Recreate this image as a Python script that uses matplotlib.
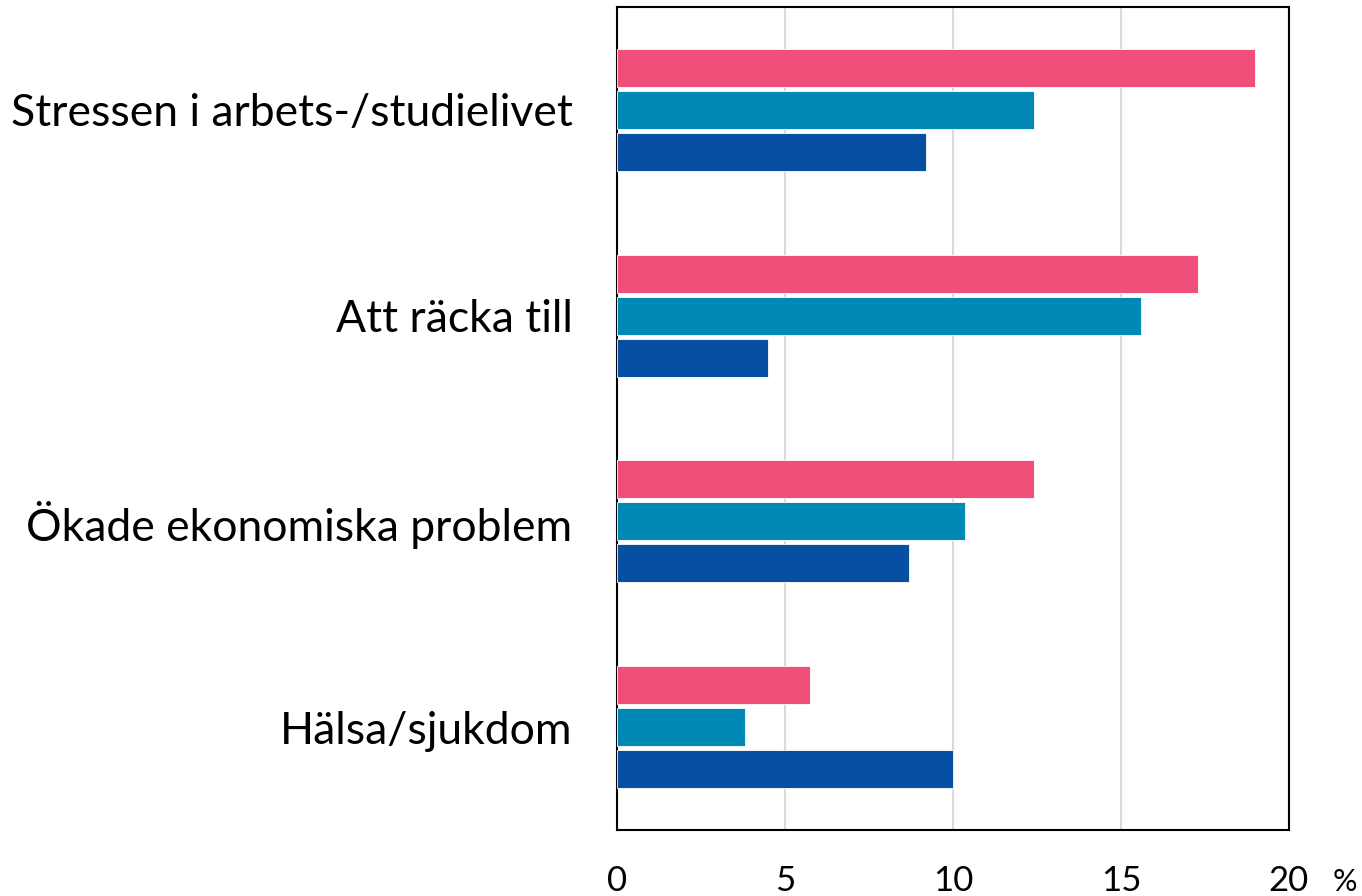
import matplotlib.pyplot as plt
import numpy as np

plt.rcParams["font.family"] = ["Lato", "DejaVu Sans"]

categories = ["Stressen i arbets-/studielivet", "Att räcka till",
              "Ökade ekonomiska problem", "Hälsa/sjukdom"]
pink_vals = [19.0, 17.3, 12.4, 5.75]
teal_vals = [12.4, 15.6, 10.35, 3.8]
blue_vals = [9.2, 4.5, 8.7, 10.0]
xticks = [0, 5, 10, 15, 20]

colors = ["#EF4F78", "#0089B5", "#064FA2"]

fig = plt.figure(figsize=(13.62, 8.96), dpi=100)
ax = fig.add_axes([617 / 1362, 1 - 830 / 896, (1289 - 617) / 1362, (830 - 7) / 896])

y = np.arange(len(categories))
step = 0.204
h = 0.185
for i, (vals, c) in enumerate(zip([pink_vals, teal_vals, blue_vals], colors)):
    ax.barh(y + (i - 1) * step, vals, height=h, color=c,
            edgecolor="white", linewidth=0.6, zorder=3)

ax.set_ylim(len(categories) - 0.5, -0.5)
ax.set_xlim(0, 20)
ax.set_xticks(xticks)
ax.set_yticks(y)
ax.set_yticklabels(categories, fontsize=32)
ax.tick_params(axis="x", length=0, pad=25, labelsize=25)
ax.tick_params(axis="y", length=0, pad=32)
ax.xaxis.grid(True, color="#D9D9D9", linewidth=1.5, zorder=0)
ax.set_axisbelow(True)
for s in ax.spines.values():
    s.set_color("black")
    s.set_linewidth(1.5)

fig.text(1345 / 1362, 1 - 882 / 896, "%", fontsize=22, ha="center", va="center")

fig.savefig("out.png", dpi=100)
